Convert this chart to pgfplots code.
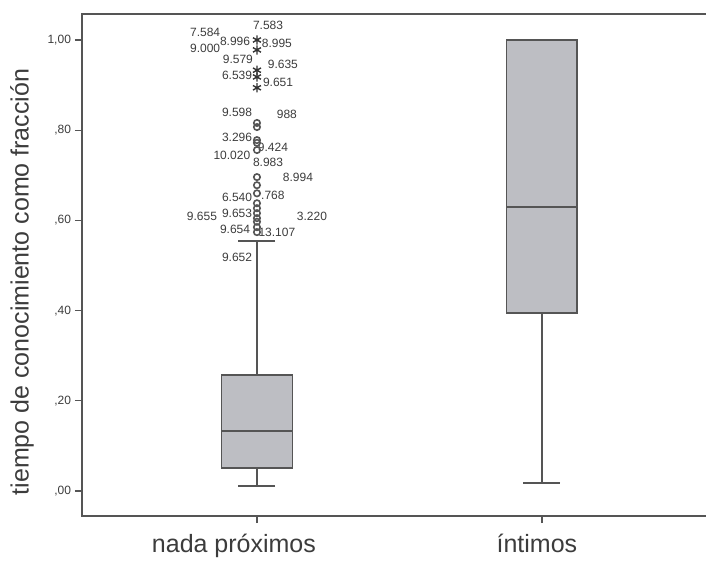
\documentclass[border=0pt]{standalone}
\usepackage{pgfplots}
\pgfplotsset{compat=1.18}
\usepgfplotslibrary{statistics}
\usepackage{fontspec}
\setmainfont{Liberation Sans}
\definecolor{boxfill}{RGB}{189,190,195}
\definecolor{boxline}{RGB}{85,85,85}
\definecolor{txt}{RGB}{60,60,60}
\newcommand{\olab}[3]{\node[font=\fontsize{6}{7}\selectfont, text=txt, inner sep=0pt] at (axis cs:#1,#2) {#3};}
\begin{document}
\begin{tikzpicture}
\path[use as bounding box] (0,0) rectangle (353pt,282pt);
\begin{axis}[
  at={(41pt,24pt)}, anchor=south west,
  scale only axis, width=319pt, height=251pt,
  xmin=-0.614, xmax=1.625, ymin=-0.0554, ymax=1.0576,
  boxplot/draw direction=y,
  axis line style={boxline, line width=0.9pt},
  axis lines=box,
  tick align=outside, tick pos=left,
  major tick length=3.5pt,
  tick style={boxline, line width=0.6pt},
  xtick={0,1},
  xticklabels={{nada próximos\hspace*{23pt}},{íntimos\hspace*{5pt}}},
  xticklabel style={font=\fontsize{12.5}{14}\selectfont, text=txt, yshift=-2pt},
  ytick={0,0.2,0.4,0.6,0.8,1.0},
  yticklabels={{,00},{,20},{,40},{,60},{,80},{1,00}},
  yticklabel style={font=\fontsize{6}{7}\selectfont, text=txt, xshift=1.5pt},
  clip=false,
]
\addplot+[boxplot prepared={draw position=0, lower whisker=0.011, lower quartile=0.051, median=0.133, upper quartile=0.257, upper whisker=0.554, box extend=0.249, whisker extend=0.13},
  fill=boxfill, draw=boxline, line width=0.9pt, solid] coordinates {};
\addplot+[boxplot prepared={draw position=1, lower whisker=0.018, lower quartile=0.395, median=0.630, upper quartile=1.0, upper whisker=1.0, box extend=0.249, whisker extend=0.13},
  fill=boxfill, draw=boxline, line width=0.9pt, solid] coordinates {};
% circles (outliers)
\addplot[only marks, mark=o, mark size=1.6pt, draw=boxline, line width=0.8pt] coordinates {
(0,0.816) (0,0.807) (0,0.778) (0,0.772) (0,0.756) (0,0.696) (0,0.678) (0,0.660)
(0,0.638) (0,0.627) (0,0.616) (0,0.605) (0,0.597) (0,0.585) (0,0.574)};
% stars (extremes)
\addplot[only marks, mark=asterisk, mark size=2.3pt, draw=black!80, line width=0.7pt] coordinates {
(0,1.000) (0,0.978) (0,0.933) (0,0.918) (0,0.894)};
\olab{-0.182}{1.016}{7.584}
\olab{0.039}{1.033}{7.583}
\olab{-0.077}{0.996}{8.996}
\olab{0.070}{0.993}{8.995}
\olab{-0.182}{0.982}{9.000}
\olab{-0.067}{0.956}{9.579}
\olab{0.091}{0.947}{9.635}
\olab{-0.070}{0.922}{6.539}
\olab{0.074}{0.907}{9.651}
\olab{-0.070}{0.840}{9.598}
\olab{0.105}{0.834}{988}
\olab{-0.070}{0.783}{3.296}
\olab{0.056}{0.761}{9.424}
\olab{-0.088}{0.745}{10.020}
\olab{0.039}{0.729}{8.983}
\olab{0.144}{0.696}{8.994}
\olab{-0.070}{0.652}{6.540}
\olab{0.056}{0.656}{.768}
\olab{-0.193}{0.608}{9.655}
\olab{-0.070}{0.616}{9.653}
\olab{0.193}{0.608}{3.220}
\olab{-0.077}{0.579}{9.654}
\olab{0.070}{0.574}{13.107}
\olab{-0.070}{0.519}{9.652}
\end{axis}
\node[rotate=90, font=\fontsize{12.5}{14}\selectfont, text=txt] at (11pt,141pt) {tiempo de conocimiento como fracción};
\end{tikzpicture}
\end{document}
